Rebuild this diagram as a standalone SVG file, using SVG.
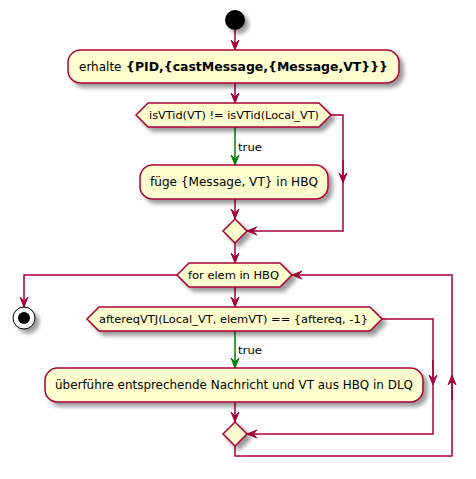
<svg xmlns="http://www.w3.org/2000/svg" width="476" height="479" viewBox="0 0 476 479">
<defs>
<filter id="sh" x="-20%" y="-20%" width="150%" height="160%">
<feGaussianBlur in="SourceAlpha" stdDeviation="2"/>
<feOffset dx="4" dy="4" result="b"/>
<feComponentTransfer><feFuncA type="linear" slope="0.4"/></feComponentTransfer>
<feMerge><feMergeNode/><feMergeNode in="SourceGraphic"/></feMerge>
</filter>
<marker id="ar" viewBox="-11 -5 12 10" refX="0" refY="0" markerWidth="12" markerHeight="10" markerUnits="userSpaceOnUse" orient="auto">
<path d="M0,0 L-10,-4 L-6,0 L-10,4 Z" fill="#A80036" stroke="#A80036" stroke-width="1"/>
</marker>
<marker id="ag" viewBox="-11 -5 12 10" refX="0" refY="0" markerWidth="12" markerHeight="10" markerUnits="userSpaceOnUse" orient="auto">
<path d="M0,0 L-10,-4 L-6,0 L-10,4 Z" fill="#008000" stroke="#008000" stroke-width="1"/>
</marker>
</defs>
<style>
.n{fill:#FEFECE;stroke:#A80036;stroke-width:1.5;filter:url(#sh)}
.c{fill:none;stroke:#A80036;stroke-width:1.5}
.g{fill:none;stroke:#008000;stroke-width:1.5}
text{font-family:"DejaVu Sans","Noto Sans",sans-serif;fill:#000}
.t12{font-size:12px}
.t11{font-size:11.3px}
</style>
<rect width="476" height="479" fill="#FFFFFF"/>
<g id="connectors">
<line class="c" x1="235" y1="30" x2="235" y2="50" marker-end="url(#ar)"/>
<line class="c" x1="235" y1="83" x2="235" y2="103" marker-end="url(#ar)"/>
<line class="g" x1="235" y1="127" x2="235" y2="165" marker-end="url(#ag)"/>
<text class="t11" x="238" y="151" textLength="24" lengthAdjust="spacingAndGlyphs">true</text>
<polyline class="c" points="331,115 343,115 343,231 247,231" marker-end="url(#ar)"/>
<line class="c" x1="343" y1="160" x2="343" y2="183" marker-end="url(#ar)"/>
<line class="c" x1="235" y1="199" x2="235" y2="219" marker-end="url(#ar)"/>
<line class="c" x1="235" y1="243" x2="235" y2="263" marker-end="url(#ar)"/>
<polyline class="c" points="177,275 24,275 24,307" marker-end="url(#ar)"/>
<line class="c" x1="235" y1="287" x2="235" y2="307" marker-end="url(#ar)"/>
<line class="g" x1="235" y1="331" x2="235" y2="368" marker-end="url(#ag)"/>
<text class="t11" x="238" y="354" textLength="24" lengthAdjust="spacingAndGlyphs">true</text>
<polyline class="c" points="382,319 433,319 433,434 247,434" marker-end="url(#ar)"/>
<line class="c" x1="433" y1="360" x2="433" y2="385" marker-end="url(#ar)"/>
<line class="c" x1="235" y1="402" x2="235" y2="422" marker-end="url(#ar)"/>
<polyline class="c" points="235,446 235,456 452,456 452,275 292,275" marker-end="url(#ar)"/>
<line class="c" x1="452" y1="400" x2="452" y2="375" marker-end="url(#ar)"/>
</g>
<g id="start"><circle cx="235" cy="20" r="10" fill="#000" filter="url(#sh)"/></g>
<g id="receive">
<rect class="n" x="68" y="50" width="331" height="33" rx="12.5" ry="12.5"/>
<text class="t12" x="79" y="71">erhalte</text>
<text class="t12" x="126" y="71" font-weight="bold" textLength="262" lengthAdjust="spacingAndGlyphs">{PID,{castMessage,{Message,VT}}}</text>
</g>
<g id="if1">
<polygon class="n" points="136,115 148,103 319,103 331,115 319,127 148,127"/>
<text class="t11" x="149" y="119" textLength="170" lengthAdjust="spacingAndGlyphs">isVTid(VT) != isVTid(Local_VT)</text>
</g>
<g id="insert">
<rect class="n" x="140" y="165" width="188" height="34" rx="12.5" ry="12.5"/>
<text class="t12" x="150" y="186" textLength="168" lengthAdjust="spacingAndGlyphs">füge {Message, VT} in HBQ</text>
</g>
<g id="merge1"><polygon class="n" points="235,219 247,231 235,243 223,231"/></g>
<g id="loop">
<polygon class="n" points="177,275 189,263 280,263 292,275 280,287 189,287"/>
<text class="t11" x="188" y="279" textLength="91" lengthAdjust="spacingAndGlyphs">for elem in HBQ</text>
</g>
<g id="stop">
<circle cx="24" cy="318" r="11" fill="#FFFFFF" stroke="#000" stroke-width="1" filter="url(#sh)"/>
<circle cx="24" cy="318" r="6" fill="#000"/>
</g>
<g id="if2">
<polygon class="n" points="87,319 99,307 370,307 382,319 370,331 99,331"/>
<text class="t11" x="99" y="323" textLength="269" lengthAdjust="spacingAndGlyphs">aftereqVTJ(Local_VT, elemVT) == {aftereq, -1}</text>
</g>
<g id="transfer">
<rect class="n" x="45" y="368" width="378" height="34" rx="12.5" ry="12.5"/>
<text class="t12" x="55" y="389" textLength="358" lengthAdjust="spacingAndGlyphs">überführe entsprechende Nachricht und VT aus HBQ in DLQ</text>
</g>
<g id="merge2"><polygon class="n" points="235,422 247,434 235,446 223,434"/></g>
</svg>
